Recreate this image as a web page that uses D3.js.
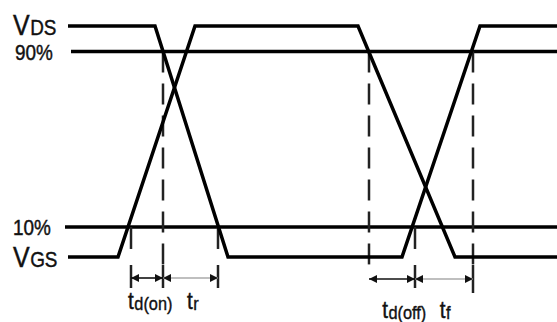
<!DOCTYPE html>
<html>
<head>
<meta charset="utf-8">
<script src="https://cdn.jsdelivr.net/npm/d3@7"></script>
<style>
    html, body { margin: 0; padding: 0; background: #fff; }
    svg { display: block; font-family: "Liberation Sans", Arial, sans-serif; }
</style>
</head>
<body>
<div id="vis"></div>
<script>
// Switching waveforms, time in arbitrary units, level in % of swing
var vdsTime  = [1, 88, 161, 335, 413, 495];
var vdsLevel = [100, 100, 0, 0, 100, 100];
var vgsTime  = [1, 51, 128, 291, 388, 495];
var vgsLevel = [0, 0, 100, 100, 0, 0];

// Reference levels
var refNames  = ['90%', '10%'];
var refLevels = [89, 13];
var refStart  = [4, -2];

// Drop lines
var dashedTimes = [96, 302, 406];   // from the 90% line
var shortTimes  = [64, 151, 348];   // from the 10% line
var tickTimes   = [64, 96, 151, 348, 406];

// Timing intervals
var intervalMain  = ['t', 't', 't', 't'];
var intervalSub   = ['d(on)', 'r', 'd(off)', 'f'];
var intervalStart = [64, 96, 302, 348];
var intervalEnd   = [96, 151, 348, 406];

(function() {
    var width = 557,
        height = 322;

    var svg = d3.select('#vis').append('svg')
        .attr('width', width)
        .attr('height', height);

    var x = d3.scaleLinear().domain([0, 490]).range([67, 557]);
    var y = d3.scaleLinear().domain([0, 100]).range([257, 26]);

    var arrowY = 278;
    var squash = 0.86;

    // arrow head
    svg.append('defs').append('marker')
        .attr('id', 'head')
        .attr('viewBox', '0 0 10 10')
        .attr('refX', 10)
        .attr('refY', 5)
        .attr('markerWidth', 8)
        .attr('markerHeight', 8)
        .attr('markerUnits', 'userSpaceOnUse')
        .attr('orient', 'auto-start-reverse')
        .append('path')
        .attr('d', 'M0,0L10,5L0,10z')
        .attr('fill', '#111');

    // reference lines 90% / 10%
    svg.selectAll('.ref').data(refLevels).enter().append('line')
        .attr('class', 'ref')
        .attr('x1', function(d, i) { return x(refStart[i]); })
        .attr('x2', width + 5)
        .attr('y1', function(d) { return y(d); })
        .attr('y2', function(d) { return y(d); })
        .attr('stroke', '#000')
        .attr('stroke-width', 3.5);

    // dashed drop lines from the 90% line
    svg.selectAll('.dash').data(dashedTimes).enter().append('line')
        .attr('class', 'dash')
        .attr('x1', function(d) { return x(d); })
        .attr('x2', function(d) { return x(d); })
        .attr('y1', y(refLevels[0]))
        .attr('y2', arrowY - 12)
        .attr('stroke', '#222')
        .attr('stroke-width', 2.5)
        .attr('stroke-dasharray', '21,11');

    // short drops from the 10% line
    svg.selectAll('.short').data(shortTimes).enter().append('line')
        .attr('class', 'short')
        .attr('x1', function(d) { return x(d); })
        .attr('x2', function(d) { return x(d); })
        .attr('y1', y(refLevels[1]))
        .attr('y2', y(refLevels[1]) + 22)
        .attr('stroke', '#222')
        .attr('stroke-width', 2.5);

    // ticks at the arrow row
    svg.selectAll('.tick').data(tickTimes).enter().append('line')
        .attr('class', 'tick')
        .attr('x1', function(d) { return x(d); })
        .attr('x2', function(d) { return x(d); })
        .attr('y1', arrowY - 13)
        .attr('y2', function(d) { return d == 406 ? arrowY + 15 : arrowY + 10; })
        .attr('stroke', '#222')
        .attr('stroke-width', 2.5);

    // waveforms
    var line = d3.line()
        .x(function(d) { return x(d[0]); })
        .y(function(d) { return y(d[1]); });

    var waves = [d3.zip(vdsTime, vdsLevel), d3.zip(vgsTime, vgsLevel)];
    svg.selectAll('.wave').data(waves).enter().append('path')
        .attr('class', 'wave')
        .attr('d', line)
        .attr('fill', 'none')
        .attr('stroke', '#000')
        .attr('stroke-width', 3.5)
        .attr('stroke-linejoin', 'miter');

    // interval arrows
    svg.selectAll('.arrow').data(intervalStart).enter().append('line')
        .attr('class', 'arrow')
        .attr('x1', function(d) { return x(d); })
        .attr('x2', function(d, i) { return x(intervalEnd[i]); })
        .attr('y1', function(d, i) { return arrowY + (i < 2 ? 0 : 1); })
        .attr('y2', function(d, i) { return arrowY + (i < 2 ? 0 : 1); })
        .attr('stroke', function(d, i) { return intervalSub[i].charAt(0) == 'd' ? '#111' : '#aaa'; })
        .attr('stroke-width', 1.6)
        .attr('marker-start', 'url(#head)')
        .attr('marker-end', 'url(#head)');

    // label with a big main letter and a smaller following part, squashed like the original
    var addLabel = function(x0, y0, main, sub, mainSize, subSize, subDy, anchorMid) {
        var g = svg.append('g');
        var a = g.append('text')
            .attr('x', 0).attr('y', y0)
            .attr('font-size', mainSize)
            .attr('fill', '#111').attr('stroke', '#111').attr('stroke-width', 0.45)
            .text(main);
        var wa = a.node().getComputedTextLength() * squash;
        a.attr('textLength', wa).attr('lengthAdjust', 'spacingAndGlyphs');
        var wb = 0;
        if (sub) {
            var b = g.append('text')
                .attr('x', wa + 0.5).attr('y', y0 + subDy)
                .attr('font-size', subSize)
                .attr('fill', '#111').attr('stroke', '#111').attr('stroke-width', 0.4)
                .text(sub);
            wb = b.node().getComputedTextLength() * squash;
            b.attr('textLength', wb).attr('lengthAdjust', 'spacingAndGlyphs');
        }
        var shift = anchorMid ? x0 - (wa + wb) / 2 : x0;
        g.attr('transform', 'translate(' + shift + ',0)');
    };

    // interval labels
    var labelNudge = [3, 2, 12, 1];
    intervalStart.forEach(function(d, i) {
        var mid = (x(d) + x(intervalEnd[i])) / 2 + labelNudge[i];
        addLabel(mid, i < 2 ? 309 : 318, intervalMain[i], intervalSub[i], 24, 19, 1, true);
    });

    // left labels
    addLabel(13, y(100) + 9, 'V', 'DS', 29, 22, 0, false);
    addLabel(15, y(refLevels[0]) + 9, refNames[0], '', 22, 0, 0, false);
    addLabel(13, y(refLevels[1]) + 8, refNames[1], '', 22, 0, 0, false);
    addLabel(13, y(0) + 10, 'V', 'GS', 29, 22, 0, false);
})();
</script>
</body>
</html>
